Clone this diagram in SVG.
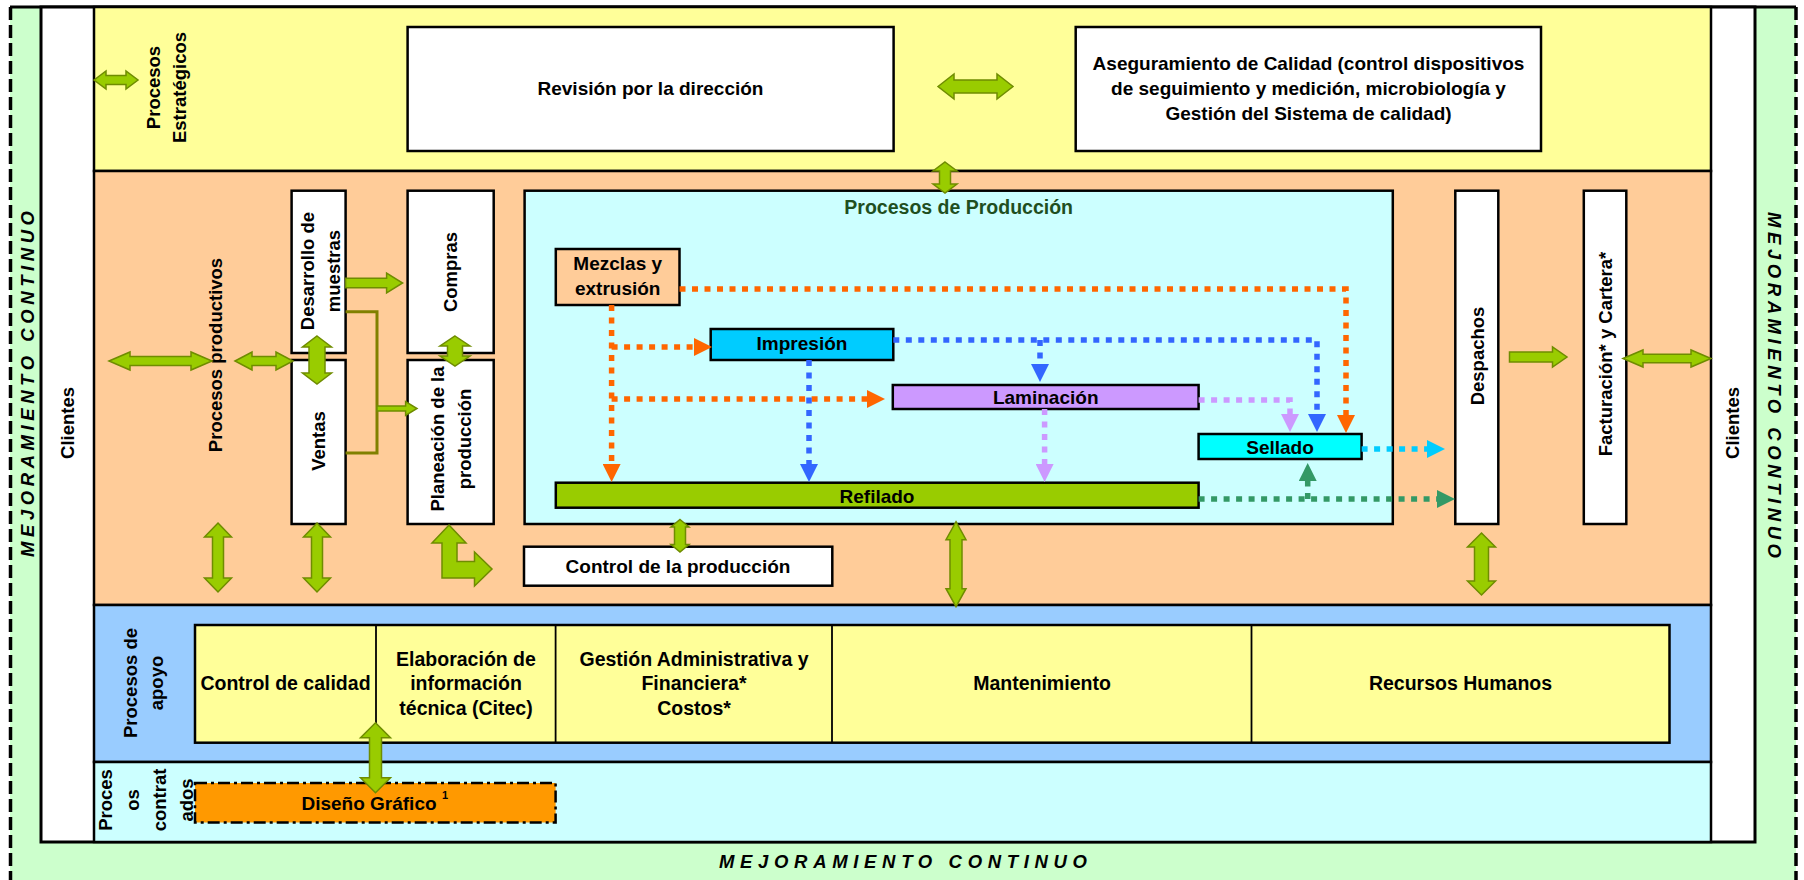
<svg xmlns="http://www.w3.org/2000/svg" width="1804" height="880" viewBox="0 0 1804 880">
  <style>
    text { font-family: "Liberation Sans", Arial, sans-serif; font-weight: bold; fill: #000; dominant-baseline: central; text-anchor: middle; }
    .t19 { font-size: 19px; }
    .t18 { font-size: 18.5px; }
    .tsup { font-size: 19.5px; }
    .mc { font-size: 18.5px; font-style: italic; }
    .box { stroke: #000; stroke-width: 2.5; }
    .band { stroke: #000; stroke-width: 2.5; }
    .white { fill: #fff; }
    .ga { fill: #99cc00; stroke: #6f8c00; stroke-width: 1.5; stroke-linejoin: miter; }
    .dot { fill: none; stroke-width: 5.5; stroke-dasharray: 6 6.5; }
    .or { stroke: #ff6600; }
    .bl { stroke: #3366ff; }
    .lv { stroke: #cc99ff; }
    .cy { stroke: #00ccff; }
    .tl { stroke: #339966; }
  </style>
  <defs>
    <marker id="hOr" viewBox="0 0 18 18" refX="8" refY="9" markerWidth="18" markerHeight="18" markerUnits="userSpaceOnUse" orient="auto"><path d="M0,0 L18,9 L0,18 Z" fill="#ff6600"/></marker>
    <marker id="hBl" viewBox="0 0 18 18" refX="8" refY="9" markerWidth="18" markerHeight="18" markerUnits="userSpaceOnUse" orient="auto"><path d="M0,0 L18,9 L0,18 Z" fill="#3366ff"/></marker>
    <marker id="hLv" viewBox="0 0 18 18" refX="8" refY="9" markerWidth="18" markerHeight="18" markerUnits="userSpaceOnUse" orient="auto"><path d="M0,0 L18,9 L0,18 Z" fill="#cc99ff"/></marker>
    <marker id="hCy" viewBox="0 0 18 18" refX="8" refY="9" markerWidth="18" markerHeight="18" markerUnits="userSpaceOnUse" orient="auto"><path d="M0,0 L18,9 L0,18 Z" fill="#00ccff"/></marker>
    <marker id="hTl" viewBox="0 0 18 18" refX="8" refY="9" markerWidth="18" markerHeight="18" markerUnits="userSpaceOnUse" orient="auto"><path d="M0,0 L18,9 L0,18 Z" fill="#339966"/></marker>
  </defs>

  <!-- outer continuous-improvement frame -->
  <g id="frame">
    <rect x="10" y="7" width="1786" height="880" fill="#ccffcc"/>
    <line x1="10" y1="7" x2="1796" y2="7" stroke="#000" stroke-width="3"/>
    <line x1="10.5" y1="7" x2="10.5" y2="880" stroke="#000" stroke-width="3.5" stroke-dasharray="13 5"/>
    <line x1="1796" y1="7" x2="1796" y2="880" stroke="#000" stroke-width="3.5" stroke-dasharray="13 5"/>
    <rect x="41" y="7" width="1714" height="835" fill="#fff" stroke="#000" stroke-width="3"/>
    <text class="mc" transform="translate(27,384) rotate(-90)" textLength="346" lengthAdjust="spacing">MEJORAMIENTO CONTINUO</text>
    <text class="mc" transform="translate(1774,385) rotate(90)" textLength="346" lengthAdjust="spacing">MEJORAMIENTO CONTINUO</text>
    <text class="mc" x="903" y="861.5" textLength="368" lengthAdjust="spacing">MEJORAMIENTO CONTINUO</text>
  </g>

  <!-- process bands -->
  <g id="bands">
    <rect class="band" x="94" y="7" width="1617" height="164" fill="#ffff99"/>
    <rect class="band" x="94" y="171" width="1617" height="434" fill="#ffcc99"/>
    <rect class="band" x="94" y="605" width="1617" height="157" fill="#99ccff"/>
    <rect class="band" x="94" y="762" width="1617" height="80" fill="#ccffff"/>
  </g>

  <g id="clientes-izq"><text class="t18" transform="translate(67,423) rotate(-90)">Clientes</text></g>
  <g id="clientes-der"><text class="t18" transform="translate(1732,423) rotate(-90)">Clientes</text></g>

  <g id="procesos-estrategicos">
    <text class="t18" transform="translate(166,87.5) rotate(-90)"><tspan x="0" y="-13">Procesos</tspan><tspan x="0" y="13">Estratégicos</tspan></text>
  </g>
  <g id="revision">
    <rect class="box white" x="407.6" y="27" width="486" height="124"/>
    <text class="t19" x="650.5" y="88">Revisión por la dirección</text>
  </g>
  <g id="aseguramiento">
    <rect class="box white" x="1075.7" y="27" width="465.3" height="124"/>
    <text class="t19" x="1308.5" y="63.5">Aseguramiento de Calidad (control dispositivos</text>
    <text class="t19" x="1308.5" y="88.3">de seguimiento y medición, microbiología y</text>
    <text class="t19" x="1308.5" y="113">Gestión del Sistema de calidad)</text>
  </g>

  <g id="procesos-productivos"><text class="t18" transform="translate(215,355) rotate(-90)">Procesos productivos</text></g>
  <g id="desarrollo">
    <rect class="box white" x="291.6" y="190.7" width="54" height="162.3"/>
    <text class="t18" transform="translate(319.5,271) rotate(-90)"><tspan x="0" y="-13">Desarrollo de</tspan><tspan x="0" y="13">muestras</tspan></text>
  </g>
  <g id="ventas">
    <rect class="box white" x="291.6" y="360" width="54" height="164"/>
    <text class="t18" transform="translate(318.6,441) rotate(-90)">Ventas</text>
  </g>
  <g id="compras">
    <rect class="box white" x="407.6" y="190.7" width="86.1" height="162.3"/>
    <text class="t18" transform="translate(450.6,272) rotate(-90)">Compras</text>
  </g>
  <g id="planeacion">
    <rect class="box white" x="407.6" y="360" width="86.1" height="164"/>
    <text class="t18" transform="translate(450,439) rotate(-90)"><tspan x="0" y="-13.5">Planeación de la</tspan><tspan x="0" y="13.5">producción</tspan></text>
  </g>

  <g id="procesos-produccion">
    <rect class="box" x="524.6" y="190.7" width="868.2" height="333.3" fill="#ccffff"/>
    <text class="tsup" x="958.7" y="207" style="fill:#1f4f1f">Procesos de Producción</text>
  </g>
  <g id="mezclas">
    <rect class="box" x="555.8" y="249" width="123.7" height="56" fill="#ffcc99"/>
    <text class="t19" x="617.7" y="263.5">Mezclas y</text>
    <text class="t19" x="617.7" y="288.5">extrusión</text>
  </g>
  <g id="impresion">
    <rect class="box" x="710.7" y="329" width="182.6" height="31" fill="#00ccff"/>
    <text class="t19" x="802" y="343.5">Impresión</text>
  </g>
  <g id="laminacion">
    <rect class="box" x="892.8" y="385" width="305.8" height="24" fill="#cc99ff"/>
    <text class="t19" x="1045.7" y="397">Laminación</text>
  </g>
  <g id="refilado">
    <rect class="box" x="555.8" y="482.7" width="642.8" height="25" fill="#99cc00"/>
    <text class="t19" x="877" y="496">Refilado</text>
  </g>
  <g id="sellado">
    <rect class="box" x="1198.6" y="434" width="163" height="25" fill="#00ffff"/>
    <text class="t19" x="1280" y="447">Sellado</text>
  </g>
  <g id="control-produccion">
    <rect class="box white" x="524" y="546.7" width="308.3" height="39"/>
    <text class="t19" x="678" y="566">Control de la producción</text>
  </g>
  <g id="despachos">
    <rect class="box white" x="1455.3" y="190.7" width="43" height="333.3"/>
    <text class="t18" transform="translate(1477,356) rotate(-90)">Despachos</text>
  </g>
  <g id="facturacion">
    <rect class="box white" x="1583.8" y="190.7" width="42.5" height="333.3"/>
    <text class="t18" transform="translate(1605,354) rotate(-90)">Facturación* y Cartera*</text>
  </g>

  <g id="procesos-apoyo">
    <text class="t18" transform="translate(143,683) rotate(-90)"><tspan x="0" y="-13">Procesos de</tspan><tspan x="0" y="13">apoyo</tspan></text>
  </g>
  <g id="apoyo">
    <rect class="box" x="195" y="625" width="1474.5" height="117.7" fill="#ffff99"/>
    <g stroke="#000" stroke-width="1.8">
      <line x1="376" y1="625" x2="376" y2="742.7"/>
      <line x1="555.6" y1="625" x2="555.6" y2="742.7"/>
      <line x1="832" y1="625" x2="832" y2="742.7"/>
      <line x1="1251.5" y1="625" x2="1251.5" y2="742.7"/>
    </g>
  </g>
  <g id="control-calidad"><text class="tsup" x="285.5" y="683">Control de calidad</text></g>
  <g id="citec">
    <text class="tsup" x="466" y="659.3">Elaboración de</text>
    <text class="tsup" x="466" y="683.3">información</text>
    <text class="tsup" x="466" y="707.5">técnica (Citec)</text>
  </g>
  <g id="gestion">
    <text class="tsup" x="694" y="659.3">Gestión Administrativa y</text>
    <text class="tsup" x="694" y="683.3">Financiera*</text>
    <text class="tsup" x="694" y="707.5">Costos*</text>
  </g>
  <g id="mantenimiento"><text class="tsup" x="1042" y="683">Mantenimiento</text></g>
  <g id="recursos-humanos"><text class="tsup" x="1460.5" y="683">Recursos Humanos</text></g>

  <g id="procesos-contratados">
    <text class="t18" transform="translate(145.5,800) rotate(-90)"><tspan x="0" y="-41">Proces</tspan><tspan x="0" y="-13.5">os</tspan><tspan x="0" y="13.5">contrat</tspan><tspan x="0" y="40">ados</tspan></text>
  </g>
  <g id="diseno-grafico">
    <rect x="195" y="783" width="360.6" height="39.5" fill="#ff9900" stroke="#000" stroke-width="2.5" stroke-dasharray="12 4 3 4"/>
    <text class="t19" x="369" y="803">Diseño Gráfico</text>
    <text x="445" y="795" style="font-size:11px">1</text>
  </g>

  <!-- connectors -->
  <g id="connectors">
    <!-- production flow (dotted) -->
    <path class="dot or" d="M679.5,289 H1346 V423" marker-end="url(#hOr)"/>
    <path class="dot or" d="M611.6,305 V472" marker-end="url(#hOr)"/>
    <path class="dot or" d="M611.6,347 H702" marker-end="url(#hOr)"/>
    <path class="dot or" d="M611.6,399 H875" marker-end="url(#hOr)"/>
    <path class="dot bl" d="M893.3,340 H1317 V422" marker-end="url(#hBl)"/>
    <path class="dot bl" d="M1040,340 V372" marker-end="url(#hBl)"/>
    <path class="dot bl" d="M809,360 V472" marker-end="url(#hBl)"/>
    <path class="dot lv" d="M1198.6,400 H1290 V422" marker-end="url(#hLv)"/>
    <path class="dot lv" d="M1044.6,409 V472" marker-end="url(#hLv)"/>
    <path class="dot cy" d="M1361.6,449 H1435" marker-end="url(#hCy)"/>
    <path class="dot tl" d="M1198.6,499 H1445" marker-end="url(#hTl)"/>
    <path class="dot tl" d="M1307.7,499 V473" marker-end="url(#hTl)"/>

    <!-- sales / samples to planning bracket -->
    <polyline points="345.6,311.7 377,311.7 377,453 345.6,453" fill="none" stroke="#808000" stroke-width="3"/>
    <polygon class="ga" points="377,406 405.6,406 405.6,401.5 417,408.5 405.6,415.5 405.6,411 377,411"/>

    <!-- block arrows -->
    <polygon class="ga" points="94,80 106,71 106,75.5 126,75.5 126,71 138,80 126,89 126,84.5 106,84.5 106,89"/>
    <polygon class="ga" points="938,86.5 954,74 954,80 997,80 997,74 1013,86.5 997,99 997,93 954,93 954,99"/>
    <polygon class="ga" points="945,162 957,171 950.5,171 950.5,184 957,184 945,193 933,184 939.5,184 939.5,171 933,171"/>
    <polygon class="ga" points="109,361 130,352 130,356.5 191,356.5 191,352 212,361 191,370 191,365.5 130,365.5 130,370"/>
    <polygon class="ga" points="235,361 252,352 252,356.5 276,356.5 276,352 293,361 276,370 276,365.5 252,365.5 252,370"/>
    <polygon class="ga" points="317,336 331.5,347 325,347 325,373 331.5,373 317,384 302.5,373 309,373 309,347 302.5,347"/>
    <polygon class="ga" points="455,336 470,346 462.5,346 462.5,356 470,356 455,366 440,356 447.5,356 447.5,346 440,346"/>
    <polygon class="ga" points="345.6,278.2 386.6,278.2 386.6,273 402.6,283 386.6,293 386.6,287.8 345.6,287.8"/>
    <polygon class="ga" points="218,523 231.5,537 223.5,537 223.5,578 231.5,578 218,592 204.5,578 212.5,578 212.5,537 204.5,537"/>
    <polygon class="ga" points="317,523 330.5,537 322.5,537 322.5,578 330.5,578 317,592 303.5,578 311.5,578 311.5,537 303.5,537"/>
    <polygon class="ga" points="449,525 466,543 457,543 457,561.5 474.5,561.5 474.5,552 492,569 474.5,586 474.5,578 442,578 442,543 432,543"/>
    <polygon class="ga" points="680,519.5 689,527 685.5,527 685.5,544.5 689,544.5 680,552 671,544.5 674.5,544.5 674.5,527 671,527"/>
    <polygon class="ga" points="956,521.7 966,539.7 962,539.7 962,588.7 966,588.7 956,606.7 946,588.7 950,588.7 950,539.7 946,539.7"/>
    <polygon class="ga" points="1481.5,533 1495.5,547 1488.5,547 1488.5,581 1495.5,581 1481.5,595 1467.5,581 1474.5,581 1474.5,547 1467.5,547"/>
    <polygon class="ga" points="1509.5,352 1552.5,352 1552.5,347 1567,357 1552.5,367 1552.5,362 1509.5,362"/>
    <polygon class="ga" points="1623,358.5 1643,350 1643,354.3 1691,354.3 1691,350 1711,358.5 1691,367 1691,362.7 1643,362.7 1643,367"/>
    <polygon class="ga" points="375.5,722.7 390.5,737.7 381.5,737.7 381.5,777.7 390.5,777.7 375.5,792.7 360.5,777.7 369.5,777.7 369.5,737.7 360.5,737.7"/>
  </g>
</svg>
